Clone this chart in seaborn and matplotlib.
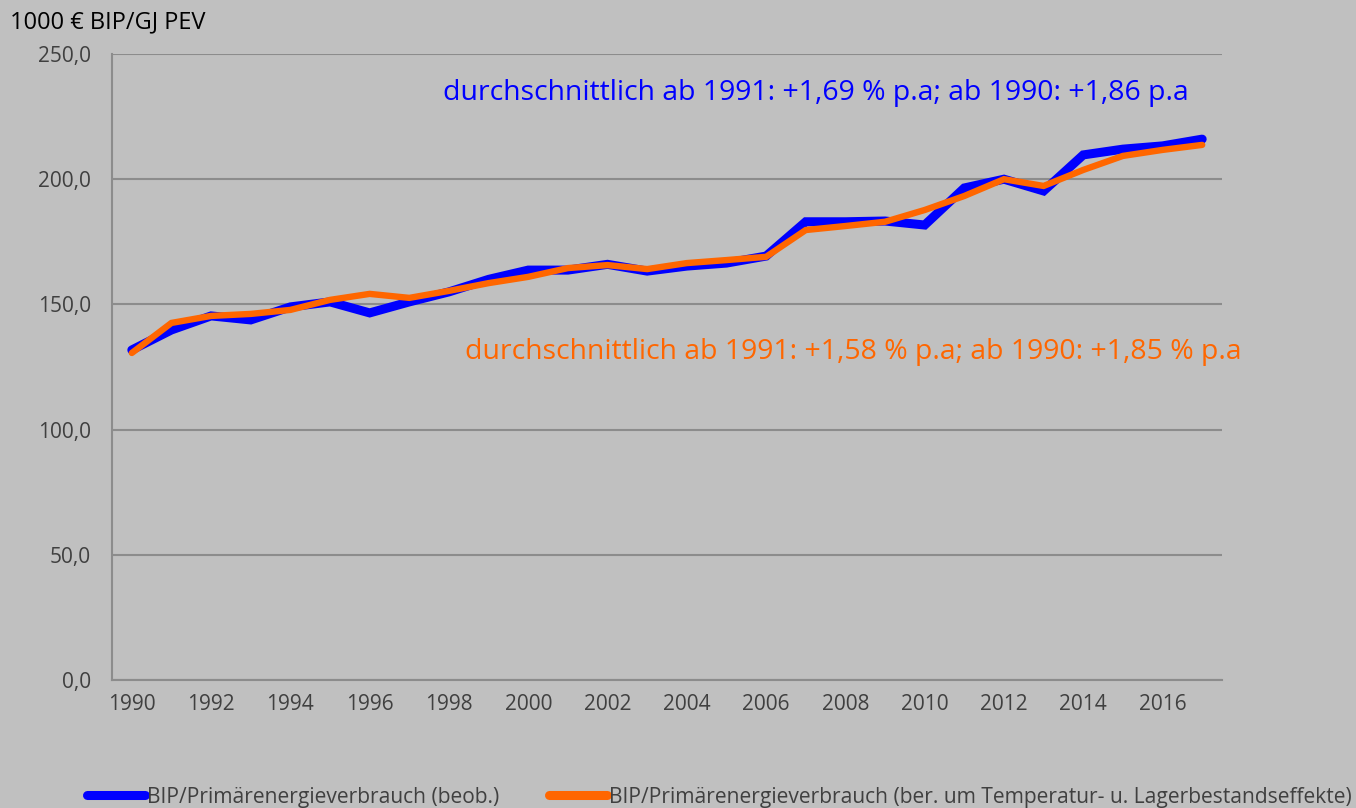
import numpy as np
import pandas as pd
import seaborn as sns
import matplotlib.pyplot as plt
from matplotlib.ticker import FuncFormatter

#       DATA
years = list(range(1990, 2018))
beob = [131.8, 139.8, 145.4, 143.8, 149.0, 151.0, 146.6, 151.0, 155.0, 160.0,
        163.7, 163.7, 166.0, 163.3, 165.3, 166.5, 169.3, 183.0, 183.0, 183.3,
        181.7, 196.5, 200.0, 195.3, 209.7, 212.0, 213.3, 216.0]
bereinigt = [130.6, 142.6, 145.4, 146.2, 147.8, 151.8, 154.2, 152.6, 155.4, 158.5,
             161.0, 164.5, 165.7, 164.1, 166.5, 167.7, 169.0, 179.7, 181.3, 183.0,
             187.7, 193.3, 200.0, 197.3, 203.7, 209.3, 211.7, 213.7]
series_names = ["BIP/Primärenergieverbrauch (beob.)",
                "BIP/Primärenergieverbrauch (ber. um Temperatur- u. Lagerbestandseffekte)"]
y_ticks = [0, 50, 100, 150, 200, 250]
y_label = "1000 € BIP/GJ PEV"
note_blue = "durchschnittlich ab 1991: +1,69 % p.a; ab 1990: +1,86 p.a"
note_orange = "durchschnittlich ab 1991: +1,58 % p.a; ab 1990: +1,85 % p.a"

df = pd.DataFrame({"pos": np.arange(len(years)), series_names[0]: beob, series_names[1]: bereinigt})
long = df.melt(id_vars="pos", var_name="Reihe", value_name="Wert")

bg = "#c0c0c0"
grid_c = "#8c8c8c"
txt_c = "#404040"

sns.set_theme(style="white", rc={"figure.facecolor": bg, "axes.facecolor": bg})
plt.rcParams['font.family'] = ['Open Sans', 'DejaVu Sans']

fig = plt.figure(figsize=(13.56, 8.08), dpi=100)
ax = fig.add_axes([112 / 1356, 128 / 808, 1110 / 1356, 626 / 808])

sns.lineplot(data=long, x="pos", y="Wert", hue="Reihe", size="Reihe",
             sizes={series_names[0]: 6.5, series_names[1]: 4.6},
             palette={series_names[0]: "#0000ff", series_names[1]: "#ff6600"},
             ax=ax, legend=False, solid_capstyle="round", solid_joinstyle="miter")

ax.set_xlim(-0.5, len(years) - 0.5)
ax.set_ylim(0, 250)
ax.set_yticks(y_ticks)
ax.yaxis.set_major_formatter(FuncFormatter(lambda v, p: f"{v:.1f}".replace(".", ",")))
ax.set_xticks(np.arange(0, len(years), 2))
ax.set_xticklabels([str(y) for y in years[::2]])
ax.set_xticks(np.arange(-0.5, len(years)), minor=True)
ax.set_xlabel("")
ax.set_ylabel("")

ax.grid(axis="y", color=grid_c, linewidth=1.5)
ax.set_axisbelow(True)
for s in ["top", "right"]:
    ax.spines[s].set_visible(False)
for s in ["left", "bottom"]:
    ax.spines[s].set_color(grid_c)
    ax.spines[s].set_linewidth(1.5)

ax.tick_params(axis="x", which="major", length=0, pad=10, labelsize=15, labelcolor=txt_c)
ax.tick_params(axis="x", which="minor", length=6, width=1.5, color=grid_c, direction="out")
ax.tick_params(axis="y", length=7, width=1.5, color=grid_c, pad=8, labelsize=15, labelcolor=txt_c)

fig.text(10 / 1356, 1 - 22 / 808, y_label, fontsize=17, color="black", va="center", ha="left")
fig.text(443 / 1356, 1 - 93 / 808, note_blue, fontsize=20.4, color="#0000ff", va="center", ha="left")
fig.text(465 / 1356, 1 - 352 / 808, note_orange, fontsize=20.4, color="#ff6600", va="center", ha="left")

handles = [plt.Line2D([], [], color="#0000ff", lw=6.5, solid_capstyle="round"),
           plt.Line2D([], [], color="#ff6600", lw=6.5, solid_capstyle="round")]
leg = fig.legend(handles, series_names, loc="center left", bbox_to_anchor=(87 / 1356, 1 - 797 / 808),
                 ncol=2, frameon=False, fontsize=15.1, handlelength=2.75, handletextpad=0.1,
                 columnspacing=2.4, borderpad=0, borderaxespad=0)
for t in leg.get_texts():
    t.set_color(txt_c)

fig.savefig("out.png", dpi=100, facecolor=bg)
